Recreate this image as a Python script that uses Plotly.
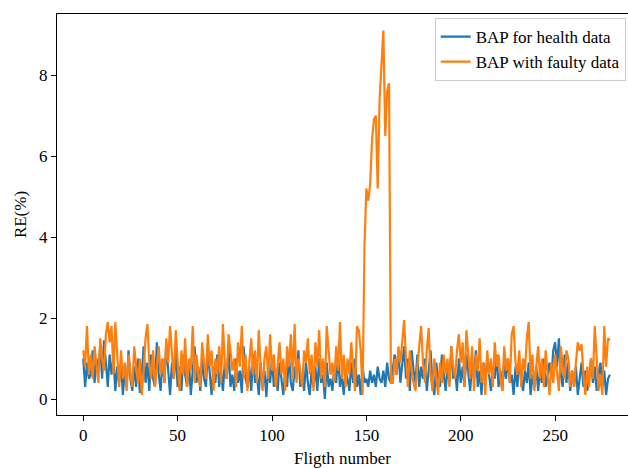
import plotly.graph_objects as go

health = [
    1.0, 0.3, 0.9, 0.5, 0.6, 1.2, 0.4, 1.0, 0.7, 1.3, 0.5, 1.45, 0.9, 0.3, 1.1, 0.6, 1.0, 0.2, 0.8, 0.4,
    0.9, 0.1, 0.7, 0.3, 1.2, 0.5, 0.2, 0.8, 0.3, 1.0, 0.15, 0.6, 1.3, 0.4, 0.9, 0.2, 1.1, 0.5, 0.3, 1.4,
    0.6, 0.2, 1.0, 0.4, 1.35, 0.7, 0.1, 0.9, 0.5, 1.2, 0.3, 0.8, 0.2, 1.1, 0.6, 0.3, 0.9, 0.1, 0.7, 1.3,
    0.4, 0.8, 0.2, 1.0, 0.5, 0.3, 1.2, 0.6, 0.1, 0.8, 0.4, 1.1, 0.3, 0.7, 0.2, 0.9, 0.5, 1.25, 0.3, 0.6,
    0.2, 1.0, 0.4, 0.7, 0.15, 1.3, 0.5, 0.3, 0.8, 0.2, 1.1, 0.4, 0.6, 0.1, 0.9, 0.3, 0.7, 0.05, 0.8, 0.4,
    1.0, 0.3, 0.6, 0.2, 0.9, 0.5, 0.1, 0.7, 0.3, 1.1, 0.4, 0.2, 0.8, 0.5, 1.2, 0.3, 0.6, 0.2, 0.9, 0.4,
    0.1, 0.7, 0.3, 0.8, 0.2, 1.0, 0.4, 0.6, 0.0, 0.9, 0.3, 0.5, 0.2, 0.8, 0.4, 1.1, 0.3, 0.6, 0.1, 0.7,
    0.5, 0.2, 0.9, 0.4, 1.0, 0.3, 0.6, 0.1, 0.8, 0.4, 0.5, 0.3, 0.7, 0.4, 0.6, 0.3, 0.8, 0.5, 0.4, 0.7,
    0.3, 0.9, 0.5, 0.4, 0.8, 1.1, 0.6, 1.2, 0.4, 0.9, 1.3, 0.5, 1.0, 0.2, 1.2, 0.7, 0.4, 1.1, 0.3, 0.8,
    0.5, 1.0, 0.2, 0.7, 1.2, 0.4, 0.1, 0.9, 0.5, 0.3, 1.1, 0.6, 0.2, 0.8, 0.4, 1.3, 0.5, 0.7, 0.2, 1.0,
    0.4, 0.8, 0.3, 1.1, 0.6, 0.2, 0.9, 0.5, 1.2, 0.3, 0.7, 0.1, 0.9, 0.4, 1.0, 0.6, 0.2, 0.8, 0.5, 1.1,
    0.3, 0.7, 0.2, 0.9, 0.5, 1.0, 0.4, 0.6, 0.1, 0.8, 0.3, 1.0, 0.5, 0.2, 0.7, 0.4, 0.9, 0.1, 0.6, 0.3,
    0.8, 0.2, 0.7, 0.4, 1.0, 0.3, 0.6, 0.9, 0.5, 1.2, 1.4, 0.8, 1.5, 0.6, 0.3, 1.1, 0.4, 0.9, 0.2, 0.7,
    0.3, 0.8, 0.1, 0.6, 0.9, 0.3, 0.7, 0.2, 0.5, 1.0, 0.4, 0.8, 0.2, 0.6, 0.9, 0.3, 0.7, 0.1, 0.5, 0.6,
]

faulty = [
    1.2, 0.8, 1.8, 0.6, 1.1, 0.5, 1.3, 0.9, 0.4, 1.5, 1.0, 0.7, 1.6, 1.9, 1.4, 1.8, 0.6, 1.9, 1.0, 0.3,
    1.2, 0.5, 0.9, 0.2, 1.1, 0.6, 0.3, 1.3, 0.8, 0.4, 1.0, 0.1, 0.7, 1.5, 1.85, 0.9, 0.5, 1.2, 0.3, 0.8,
    1.3, 0.6, 1.0, 0.4, 1.5, 0.9, 1.8, 1.1, 0.5, 1.7, 0.8, 0.2, 1.2, 0.6, 1.5, 0.3, 1.0, 0.7, 1.8, 0.4,
    1.1, 0.6, 0.3, 1.4, 0.9, 0.5, 1.6, 0.8, 1.2, 0.2, 1.0, 0.6, 1.3, 0.4, 1.85, 0.9, 0.5, 1.6, 1.2, 0.7,
    1.0, 0.3, 1.4, 0.8, 1.8, 0.5, 1.1, 0.2, 0.9, 1.5, 0.6, 1.2, 0.4, 1.7, 0.8, 0.2, 1.0, 1.3, 0.5, 1.6,
    0.7, 1.1, 0.3, 0.9, 1.4, 0.6, 1.0, 0.2, 1.3, 0.8, 1.6, 0.5, 1.85, 0.4, 1.0, 0.7, 0.3, 1.2, 0.9, 1.5,
    0.6, 1.1, 0.2, 1.4, 0.8, 1.7, 0.5, 1.0, 0.3, 1.8, 1.2, 0.6, 0.9, 0.4, 1.3, 0.7, 1.9, 0.5, 1.1, 0.3,
    1.0, 0.6, 1.4, 0.8, 0.2, 1.8, 1.7, 1.2, 0.1, 3.8, 5.2, 4.9, 5.3, 6.4, 6.9, 7.0, 5.2, 7.4, 8.3, 9.1,
    6.5, 7.6, 7.8, 0.4, 0.4, 1.0, 0.6, 1.3, 0.9, 1.5, 1.95, 1.0, 0.3, 1.2, 0.7, 0.4, 0.2, 0.8, 1.3, 1.8,
    0.9, 0.4, 1.2, 1.75, 0.6, 0.2, 1.0, 0.5, 0.1, 0.9, 0.4, 1.1, 0.6, 1.0, 0.3, 1.3, 0.8, 0.5, 1.2, 1.6,
    0.9, 1.4, 0.3, 1.7, 1.0, 0.5, 1.3, 0.2, 1.1, 0.7, 1.5, 0.4, 0.9, 0.1, 1.2, 0.6, 1.0, 0.3, 1.4, 0.8,
    1.1, 0.5, 0.2, 1.3, 0.7, 1.0, 0.4, 1.6, 1.8, 0.9, 0.6, 1.2, 0.3, 1.0, 0.7, 1.5, 1.9, 0.5, 1.1, 0.2,
    0.8, 1.3, 0.5, 1.0, 0.3, 1.2, 0.6, 0.1, 0.9, 0.4, 1.1, 0.7, 0.2, 1.3, 0.8, 0.5, 1.2, 1.0, 0.3, 0.7,
    0.3, 0.9, 1.4, 1.2, 1.35, 0.6, 0.1, 0.8, 0.3, 1.0, 0.5, 1.8, 0.9, 0.2, 0.6, 0.1, 1.8, 0.8, 1.5, 1.45,
]

names = ["BAP for health data", "BAP with faulty data"]
colors = ["#1f77b4", "#ff7f0e"]
x_ticks = [0, 50, 100, 150, 200, 250]
y_ticks = [0, 2, 4, 6, 8]

FONT = "Times New Roman, Liberation Serif, serif"
fnt = dict(family=FONT, size=17, color="black")

fig = go.Figure()
for name, ys, c in zip(names, [health, faulty], colors):
    fig.add_trace(go.Scatter(x=list(range(len(ys))), y=ys, mode="lines", name=name,
                             line=dict(color=c, width=2.2)))

fig.update_layout(
    width=628, height=468,
    margin=dict(l=57, r=0, t=14, b=53),
    paper_bgcolor="white", plot_bgcolor="white",
    font=fnt,
    showlegend=True,
    legend=dict(x=0.996, y=0.99, xanchor="right", yanchor="top",
                bgcolor="rgba(255,255,255,0.8)", bordercolor="#cccccc", borderwidth=1,
                font=fnt),
)
fig.update_xaxes(range=[-13.9, 288.6], tickvals=x_ticks, showgrid=False, zeroline=False,
                 showline=True, linecolor="black", linewidth=1, mirror=True,
                 ticks="outside", ticklen=5, tickcolor="black",
                 tickfont=fnt,
                 title=dict(text="Fligth number", standoff=10, font=fnt))
fig.update_yaxes(range=[-0.395, 9.51], tickvals=y_ticks, showgrid=False, zeroline=False,
                 showline=True, linecolor="black", linewidth=1,
                 ticks="outside", ticklen=5, tickcolor="black",
                 tickfont=fnt,
                 title=dict(text="RE(%)", standoff=8, font=fnt))

fig.write_html("out.html")
